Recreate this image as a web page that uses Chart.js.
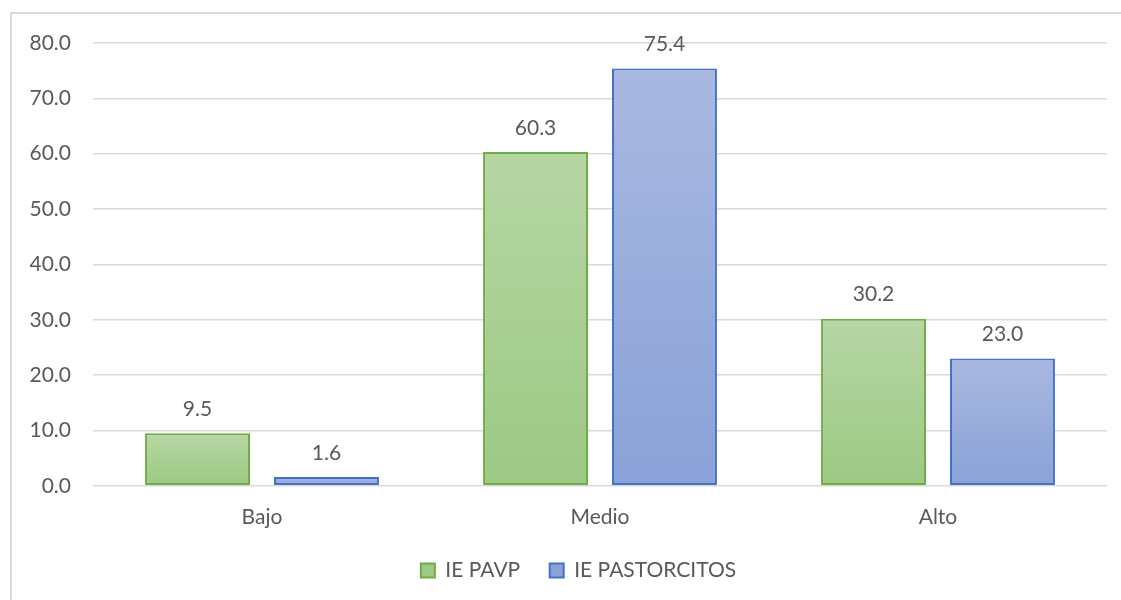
<!DOCTYPE html>
<html>
<head>
<meta charset="utf-8">
<script src="https://cdn.jsdelivr.net/npm/chart.js@4.4.1/dist/chart.umd.min.js"></script>
<style>
  html, body { margin: 0; padding: 0; background: #fff; overflow: hidden; }
  #frame { position: absolute; left: 10px; top: 12px; width: 1200px; height: 700px; border: 2px solid #d9d9d9; }
  #wrap { position: absolute; left: 0; top: 0; width: 1121px; height: 600px; }
</style>
</head>
<body>
<div id="frame"></div>
<div id="wrap"><canvas id="chart" width="1121" height="600"></canvas></div>
<script>
// datos
const categorias = ["Bajo", "Medio", "Alto"];
const iePavp = [9.5, 60.3, 30.2];
const iePastorcitos = [1.6, 75.4, 23.0];
const serieNombres = ["IE PAVP", "IE PASTORCITOS"];

const txtColor = "#595959";
const fuente = "Lato, 'Open Sans', sans-serif";

// degradado vertical por barra, como en Excel
function degradado(arriba, abajo, plano) {
  return function(ctx) {
    const chart = ctx.chart;
    if (ctx.type !== "data" || !chart.chartArea) return plano;
    const y = chart.scales.y;
    const yTop = y.getPixelForValue(ctx.raw);
    const yBase = y.getPixelForValue(0);
    if (!isFinite(yTop) || !isFinite(yBase) || yTop === yBase) return plano;
    const g = chart.ctx.createLinearGradient(0, yTop, 0, yBase);
    g.addColorStop(0, arriba);
    g.addColorStop(1, abajo);
    return g;
  };
}

// etiquetas de valor encima de cada barra
const etiquetas = {
  id: "etiquetas",
  afterDatasetsDraw(chart) {
    const c = chart.ctx;
    c.save();
    c.font = "21px " + fuente;
    c.fillStyle = txtColor;
    c.textAlign = "center";
    c.textBaseline = "middle";
    chart.data.datasets.forEach((ds, i) => {
      chart.getDatasetMeta(i).data.forEach((bar, j) => {
        c.fillText(ds.data[j].toFixed(1), bar.x, bar.y - 24);
      });
    });
    c.restore();
  }
};

// la leyenda va centrada sobre el area de trazado, no sobre todo el lienzo
const moverLeyenda = {
  id: "moverLeyenda",
  afterLayout(chart) {
    if (chart.legend) {
      chart.legend.left += 25;
      chart.legend.right += 25;
    }
  }
};

new Chart(document.getElementById("chart"), {
  type: "bar",
  data: {
    labels: categorias,
    datasets: [{
      label: serieNombres[0],
      data: iePavp,
      backgroundColor: degradado("#b6d6a4", "#9cc984", "#a9cf94"),
      borderColor: "#70ad47",
      borderWidth: 2,
      borderSkipped: false,
      categoryPercentage: 0.763,
      barPercentage: 0.814
    }, {
      label: serieNombres[1],
      data: iePastorcitos,
      backgroundColor: degradado("#a9b8e0", "#8aa2d8", "#99adde"),
      borderColor: "#4472c4",
      borderWidth: 2,
      borderSkipped: false,
      categoryPercentage: 0.763,
      barPercentage: 0.814
    }]
  },
  options: {
    responsive: false,
    animation: false,
    layout: { padding: { top: 43, right: 14, bottom: 9, left: 0 } },
    plugins: {
      tooltip: { enabled: false },
      legend: {
        position: "bottom",
        labels: {
          color: txtColor,
          font: { family: fuente, size: 21 },
          boxWidth: 14,
          boxHeight: 14,
          padding: 19,
          generateLabels(chart) {
            const items = Chart.defaults.plugins.legend.labels.generateLabels(chart);
            // un poco mas de aire entre las dos series
            items[0].text = items[0].text + "\u2002";
            return items;
          }
        }
      }
    },
    scales: {
      x: {
        grid: { display: false },
        border: { display: false },
        ticks: { color: txtColor, font: { family: fuente, size: 21 }, padding: 11 }
      },
      y: {
        min: 0,
        max: 80,
        afterFit(scale) { scale.width = 93; },
        grid: { color: "#d9d9d9", lineWidth: 1.5, drawTicks: false },
        border: { display: false },
        ticks: {
          stepSize: 10,
          color: txtColor,
          font: { family: fuente, size: 21 },
          padding: 22,
          callback: v => v.toFixed(1)
        }
      }
    }
  },
  plugins: [etiquetas, moverLeyenda]
});
</script>
</body>
</html>
